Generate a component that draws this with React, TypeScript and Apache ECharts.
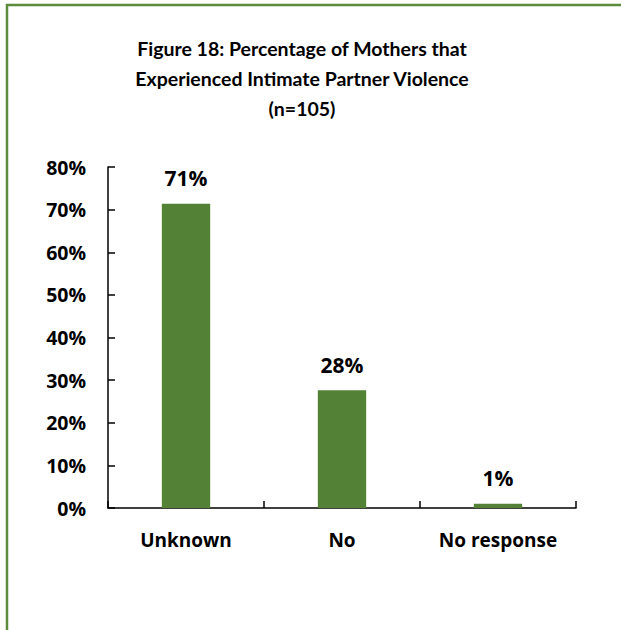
import React, { useEffect, useRef } from "react";
import * as echarts from "echarts";

const titleLines = [
  "Figure 18: Percentage of Mothers that",
  "Experienced Intimate Partner Violence",
  "(n=105)",
];
const categories = ["Unknown", "No", "No response"];
const values = [71.4, 27.6, 1.0];
const valueLabels = ["71%", "28%", "1%"];
const yTicks = [0, 10, 20, 30, 40, 50, 60, 70, 80];

const FONT = "'Open Sans', 'Noto Sans', sans-serif";
const TITLE_FONT = "Lato, 'Open Sans', sans-serif";

export default function App() {
  const ref = useRef<HTMLDivElement>(null);
  useEffect(() => {
    if (!ref.current) return;
    const chart = echarts.init(ref.current, undefined, { renderer: "svg" });
    chart.setOption({
      animation: false,
      backgroundColor: "#ffffff",
      title: {
        text: titleLines.join("\n"),
        left: 302,
        top: 33,
        textAlign: "center",
        padding: 0,
        textStyle: {
          fontFamily: TITLE_FONT,
          fontSize: 19.5,
          fontWeight: "bold",
          color: "#000000",
          lineHeight: 30,
        },
      },
      graphic: [
        {
          type: "rect",
          shape: { x: 7, y: 5, width: 700, height: 700 },
          style: { fill: "none", stroke: "#5b8c3a", lineWidth: 2.5 },
          silent: true,
        },
      ],
      grid: { left: 108, right: 45, top: 167, bottom: 122, containLabel: false },
      xAxis: {
        type: "category",
        data: categories,
        axisLine: { lineStyle: { color: "#000000", width: 1.5 } },
        axisTick: { show: true, inside: true, length: 7, lineStyle: { color: "#000000", width: 1.5 } },
        axisLabel: {
          fontFamily: FONT,
          fontSize: 19,
          fontWeight: "bold",
          color: "#000000",
          margin: 22,
        },
        splitLine: { show: false },
      },
      yAxis: {
        type: "value",
        min: yTicks[0],
        max: yTicks[yTicks.length - 1],
        interval: 10,
        axisLine: { show: true, lineStyle: { color: "#000000", width: 1.5 } },
        axisTick: { show: true, inside: true, length: 7, lineStyle: { color: "#000000", width: 1.5 } },
        axisLabel: {
          fontFamily: FONT,
          fontSize: 19.5,
          fontWeight: "bold",
          color: "#000000",
          margin: 22,
          formatter: (v: number) => `${v}%`,
        },
        splitLine: { show: false },
      },
      series: [
        {
          type: "bar",
          data: values,
          barWidth: "31%",
          itemStyle: { color: "#538135" },
          label: {
            show: true,
            position: "top",
            distance: 15,
            fontFamily: FONT,
            fontSize: 21,
            fontWeight: "bold",
            color: "#000000",
            formatter: (p: any) => valueLabels[p.dataIndex],
          },
        },
      ],
    });
    return () => chart.dispose();
  }, []);
  return (
    <div
      ref={ref}
      style={{ position: "absolute", left: 0, top: 0, width: 621, height: 630 }}
    />
  );
}
